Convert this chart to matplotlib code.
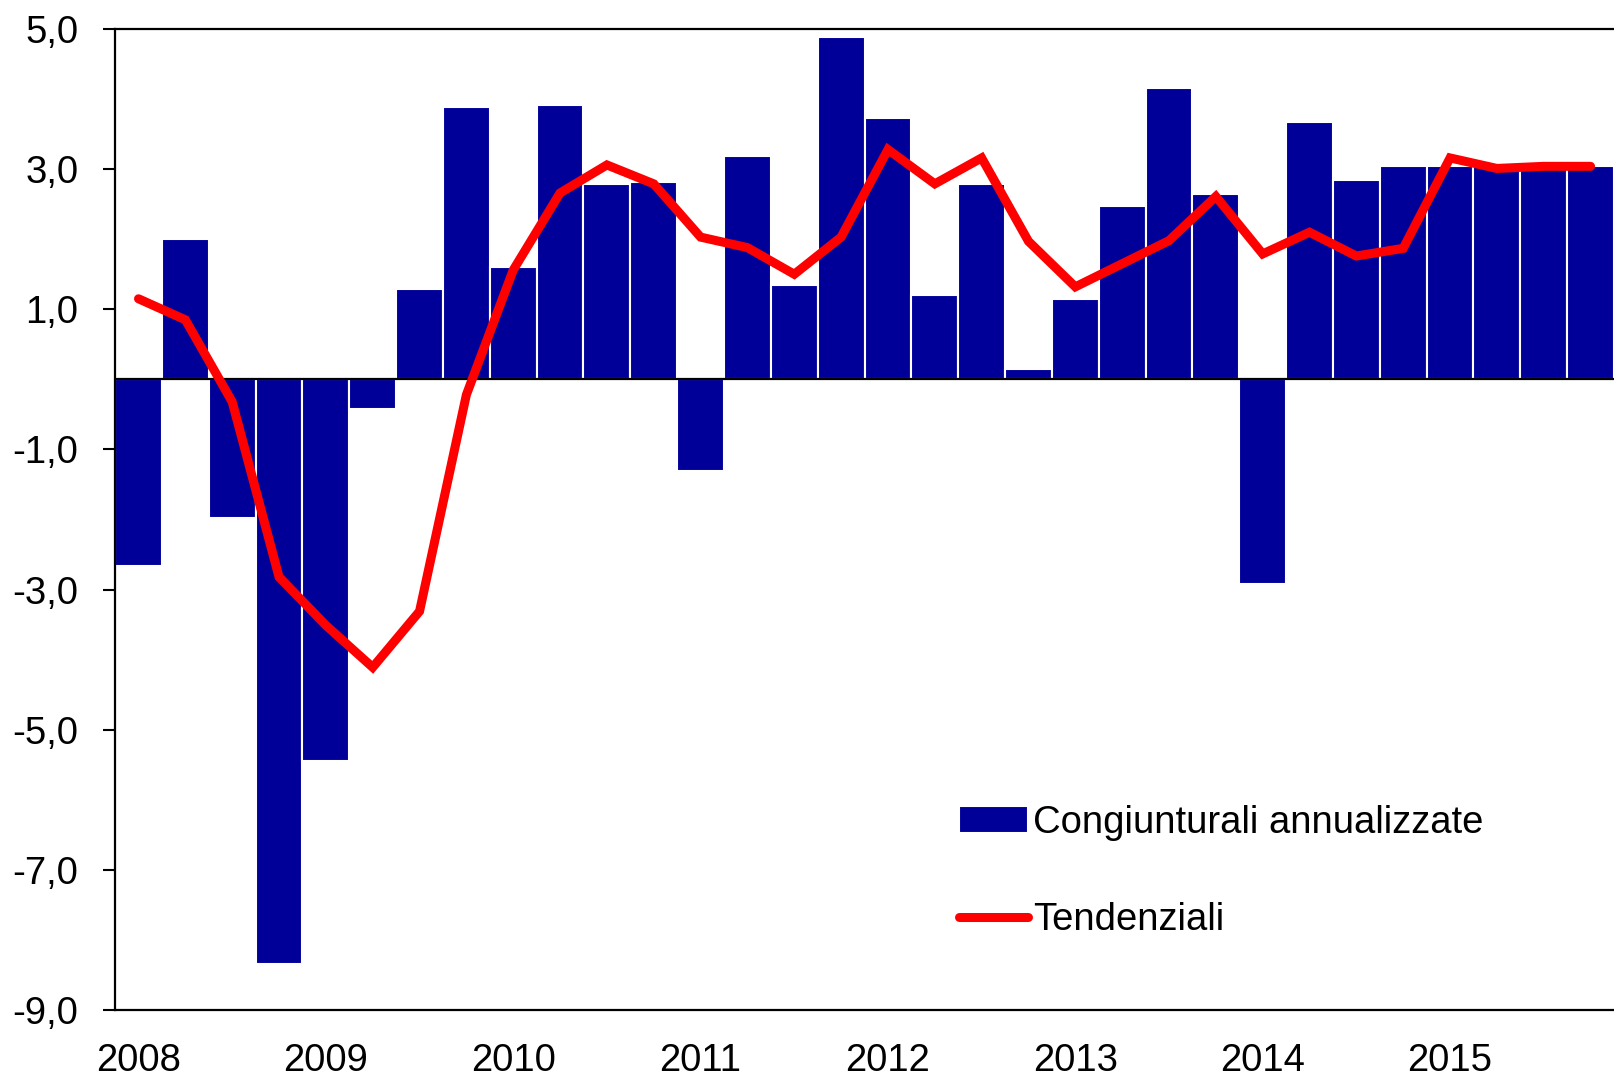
import numpy as np
import matplotlib
matplotlib.use('Agg')
import matplotlib.pyplot as plt
from matplotlib.ticker import FuncFormatter

plt.rcParams['font.family'] = ['Liberation Sans', 'DejaVu Sans']

# quarterly data 2008Q1 - 2015Q4
years = ['2008', '2009', '2010', '2011', '2012', '2013', '2014', '2015']
congiunturali = [-2.67, 2.00, -1.98, -8.34,
                 -5.45, -0.43, 1.29, 3.89,
                 1.60, 3.92, 2.79, 2.82,
                 -1.31, 3.19, 1.35, 4.89,
                 3.73, 1.20, 2.79, 0.15,
                 1.15, 2.48, 4.16, 2.64,
                 -2.92, 3.67, 2.85, 3.04,
                 3.04, 3.04, 3.04, 3.04]
tendenziali = [1.15, 0.85, -0.32, -2.82,
               -3.51, -4.11, -3.31, -0.22,
               1.56, 2.66, 3.06, 2.79,
               2.03, 1.88, 1.50, 2.03,
               3.28, 2.79, 3.16, 1.97,
               1.32, 1.65, 1.98, 2.61,
               1.79, 2.10, 1.76, 1.87,
               3.16, 3.01, 3.04, 3.04]

x = np.arange(len(congiunturali))

fig = plt.figure(figsize=(16.14, 10.78), dpi=100)
ax = fig.add_axes([0.0713, 0.0631, 0.9287, 0.91])

bars = ax.bar(x, congiunturali, width=1.0, color='#000099', edgecolor='white',
              linewidth=1.5, label='Congiunturali annualizzate', zorder=2)
ax.axhline(0, color='black', linewidth=1.6, zorder=3)
line, = ax.plot(x, tendenziali, color='#ff0000', linewidth=6.5, solid_capstyle='round',
                solid_joinstyle='miter', label='Tendenziali', zorder=4)

ax.set_xlim(-0.5, len(x) - 0.5)
ax.set_ylim(-9, 5)
ax.set_yticks(np.arange(-9, 6, 2))
ax.yaxis.set_major_formatter(FuncFormatter(lambda v, p: f'{v:.1f}'.replace('.', ',')))
ax.set_xticks(x[::4])
ax.set_xticklabels(years)

ax.tick_params(axis='y', direction='out', length=8.5, width=1.5, pad=18, labelsize=27.5)
ax.tick_params(axis='x', length=0, pad=24, labelsize=27.5)

for side in ['left', 'top', 'bottom']:
    ax.spines[side].set_linewidth(1.6)
    ax.spines[side].set_color('black')
ax.spines['right'].set_visible(False)

ax.legend([bars, line], ['Congiunturali annualizzate', 'Tendenziali'],
          loc='upper left', bbox_to_anchor=(0.563, 0.209), frameon=False,
          fontsize=27.5, handlelength=1.8, handletextpad=0.15, labelspacing=1.6,
          borderaxespad=0, borderpad=0)

fig.savefig('out.png', dpi=100)
